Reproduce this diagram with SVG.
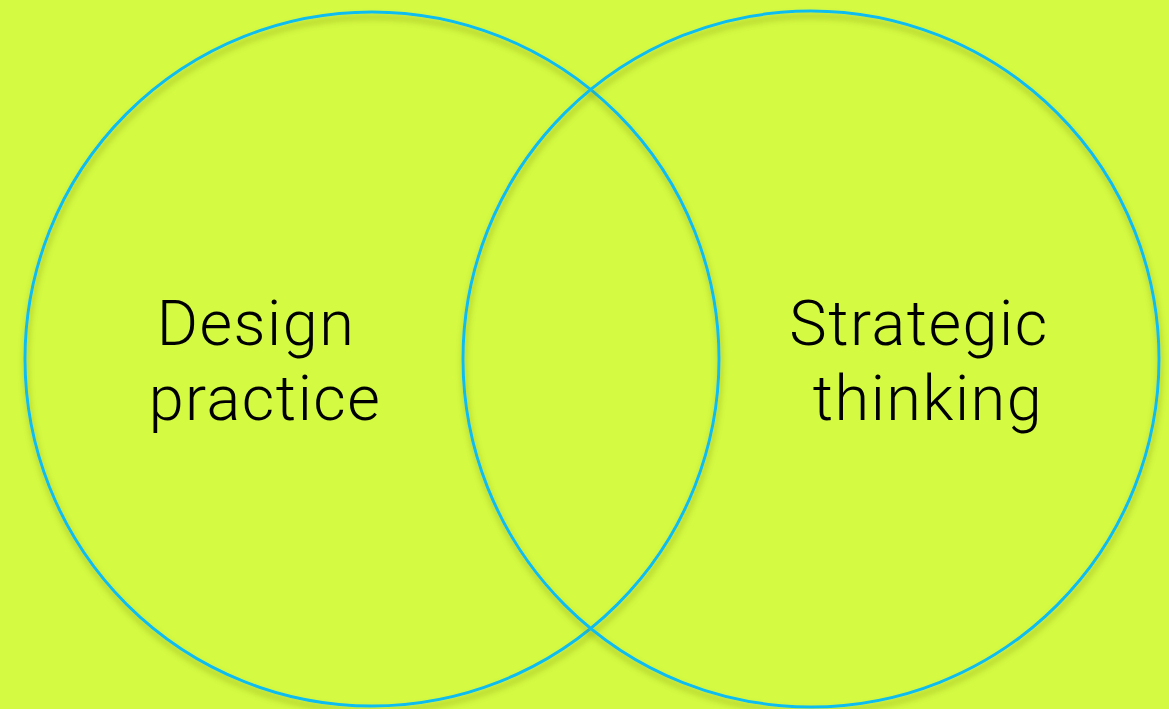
<svg xmlns="http://www.w3.org/2000/svg" width="1169" height="709" viewBox="0 0 1169 709">
<defs>
<filter id="sh" x="-10%" y="-10%" width="120%" height="120%">
<feGaussianBlur in="SourceAlpha" stdDeviation="3"/>
<feOffset dx="1" dy="5" result="b"/>
<feFlood flood-color="#6f7f10" flood-opacity="0.5"/>
<feComposite in2="b" operator="in" result="s"/>
<feMerge><feMergeNode in="s"/><feMergeNode in="SourceGraphic"/></feMerge>
</filter>
<style>
.c{fill:none;stroke:#10bdf0;stroke-width:3;filter:url(#sh)}
.t{font-family:Roboto,"Liberation Sans",sans-serif;font-weight:300;font-size:63px;letter-spacing:1.5px;fill:#000;text-anchor:middle}
</style>
</defs>
<rect width="1169" height="709" fill="#d4fa42"/>
<g id="left-circle">
<circle class="c" cx="372" cy="359" r="347"/>
<text class="t" x="256" y="345">Design</text>
<text class="t" x="265" y="420">practice</text>
</g>
<g id="right-circle">
<circle class="c" cx="811" cy="359" r="348"/>
<text class="t" x="919" y="345">Strategic</text>
<text class="t" x="928" y="420">thinking</text>
</g>
<g id="connectors"/>
</svg>
